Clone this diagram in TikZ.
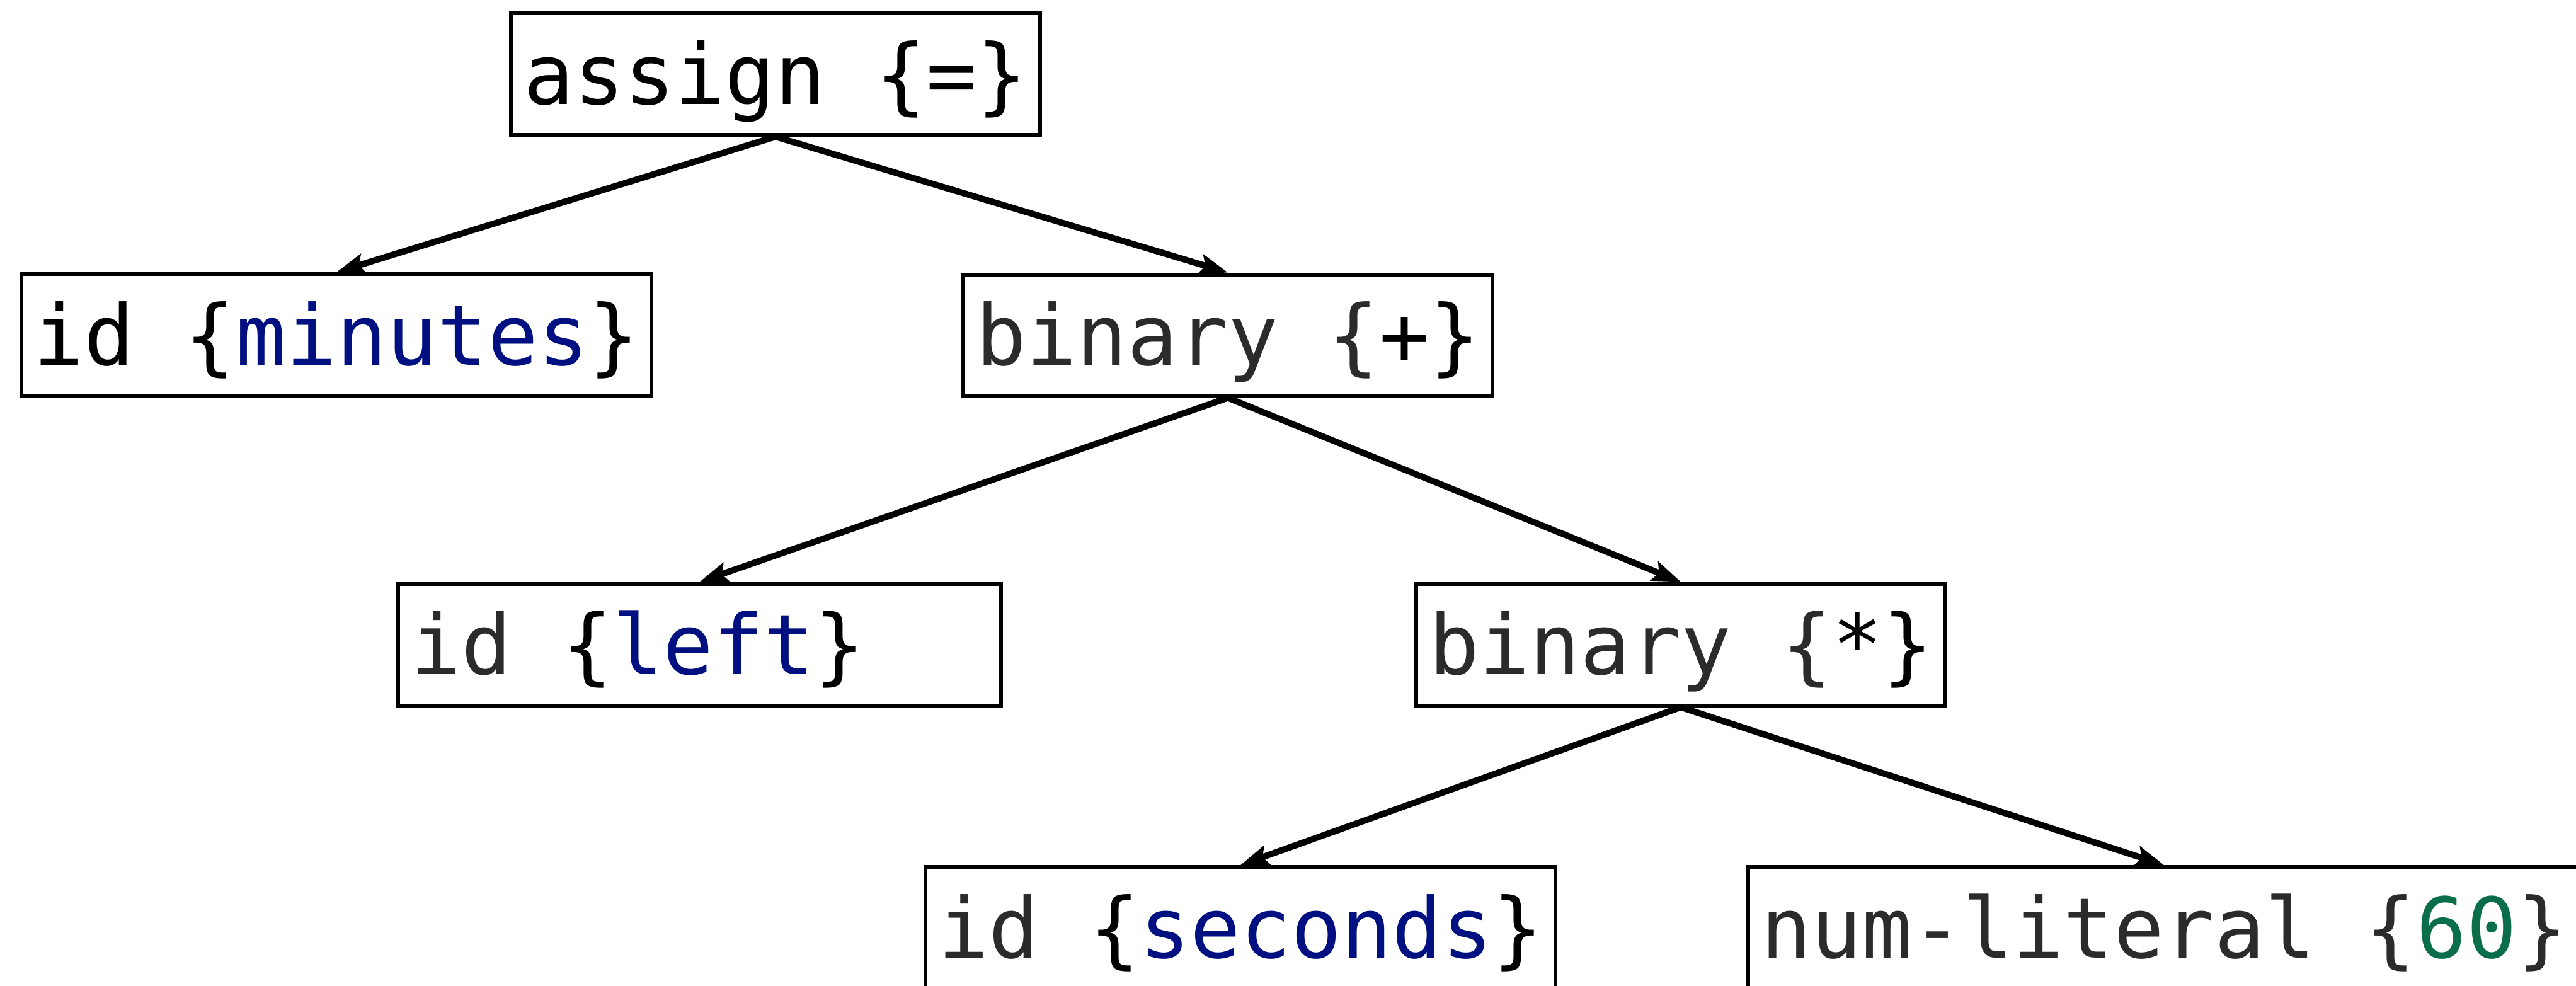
\documentclass[tikz,border=0pt]{standalone}
\usepackage{fontspec}
\setmonofont{DejaVu Sans Mono}
\usetikzlibrary{arrows.meta}
\definecolor{txtgray}{HTML}{2B2B2B}
\definecolor{idblue}{HTML}{001080}
\definecolor{numgreen}{HTML}{0B6E4A}
\tikzset{
  astnode/.style={draw=black, line width=0.06cm, anchor=west, inner xsep=0.2cm, inner ysep=0pt,
    minimum height=1.93cm, text height=1.2cm, text depth=0.25cm,
    font=\ttfamily\fontsize{37.81pt}{45pt}\selectfont},
  edge/.style={line width=0.1cm, -{Stealth[length=0.45cm,width=0.32cm,inset=0.08cm]}}
}
\begin{document}
\begin{tikzpicture}
\useasboundingbox (0,0) rectangle (40.89,-15.64);
\clip (0,0) rectangle (40.89,-15.64);
\fill[white] (0,0) rectangle (40.89,-15.64);
\node[astnode] (assign) at (8.08,-1.175) {assign \{=\}};
\node[astnode] (minutes) at (0.31,-5.315) {id \{\textcolor{idblue}{minutes}\}};
\node[astnode] (plus) at (15.26,-5.32) {\textcolor{txtgray}{binary \{}+\}};
\node[astnode] (left) at (6.29,-10.23) {\textcolor{txtgray}{id} \{\textcolor{idblue}{left}\}\rule{1.97cm}{0pt}};
\node[astnode] (times) at (22.45,-10.23) {\textcolor{txtgray}{binary \{}*\}};
\node[astnode] (seconds) at (14.66,-14.725) {\textcolor{txtgray}{id} \{\textcolor{idblue}{seconds}\}};
\node[astnode] (num) at (27.72,-14.725) {\textcolor{txtgray}{num-literal \{\textcolor{numgreen}{60}\}}};
\draw[edge] (assign.south) -- (minutes.north);
\draw[edge] (assign.south) -- (plus.north);
\draw[edge] (plus.south) -- (left.north);
\draw[edge] (plus.south) -- (times.north);
\draw[edge] (times.south) -- (seconds.north);
\draw[edge] (times.south) -- (num.north);
\end{tikzpicture}
\end{document}
